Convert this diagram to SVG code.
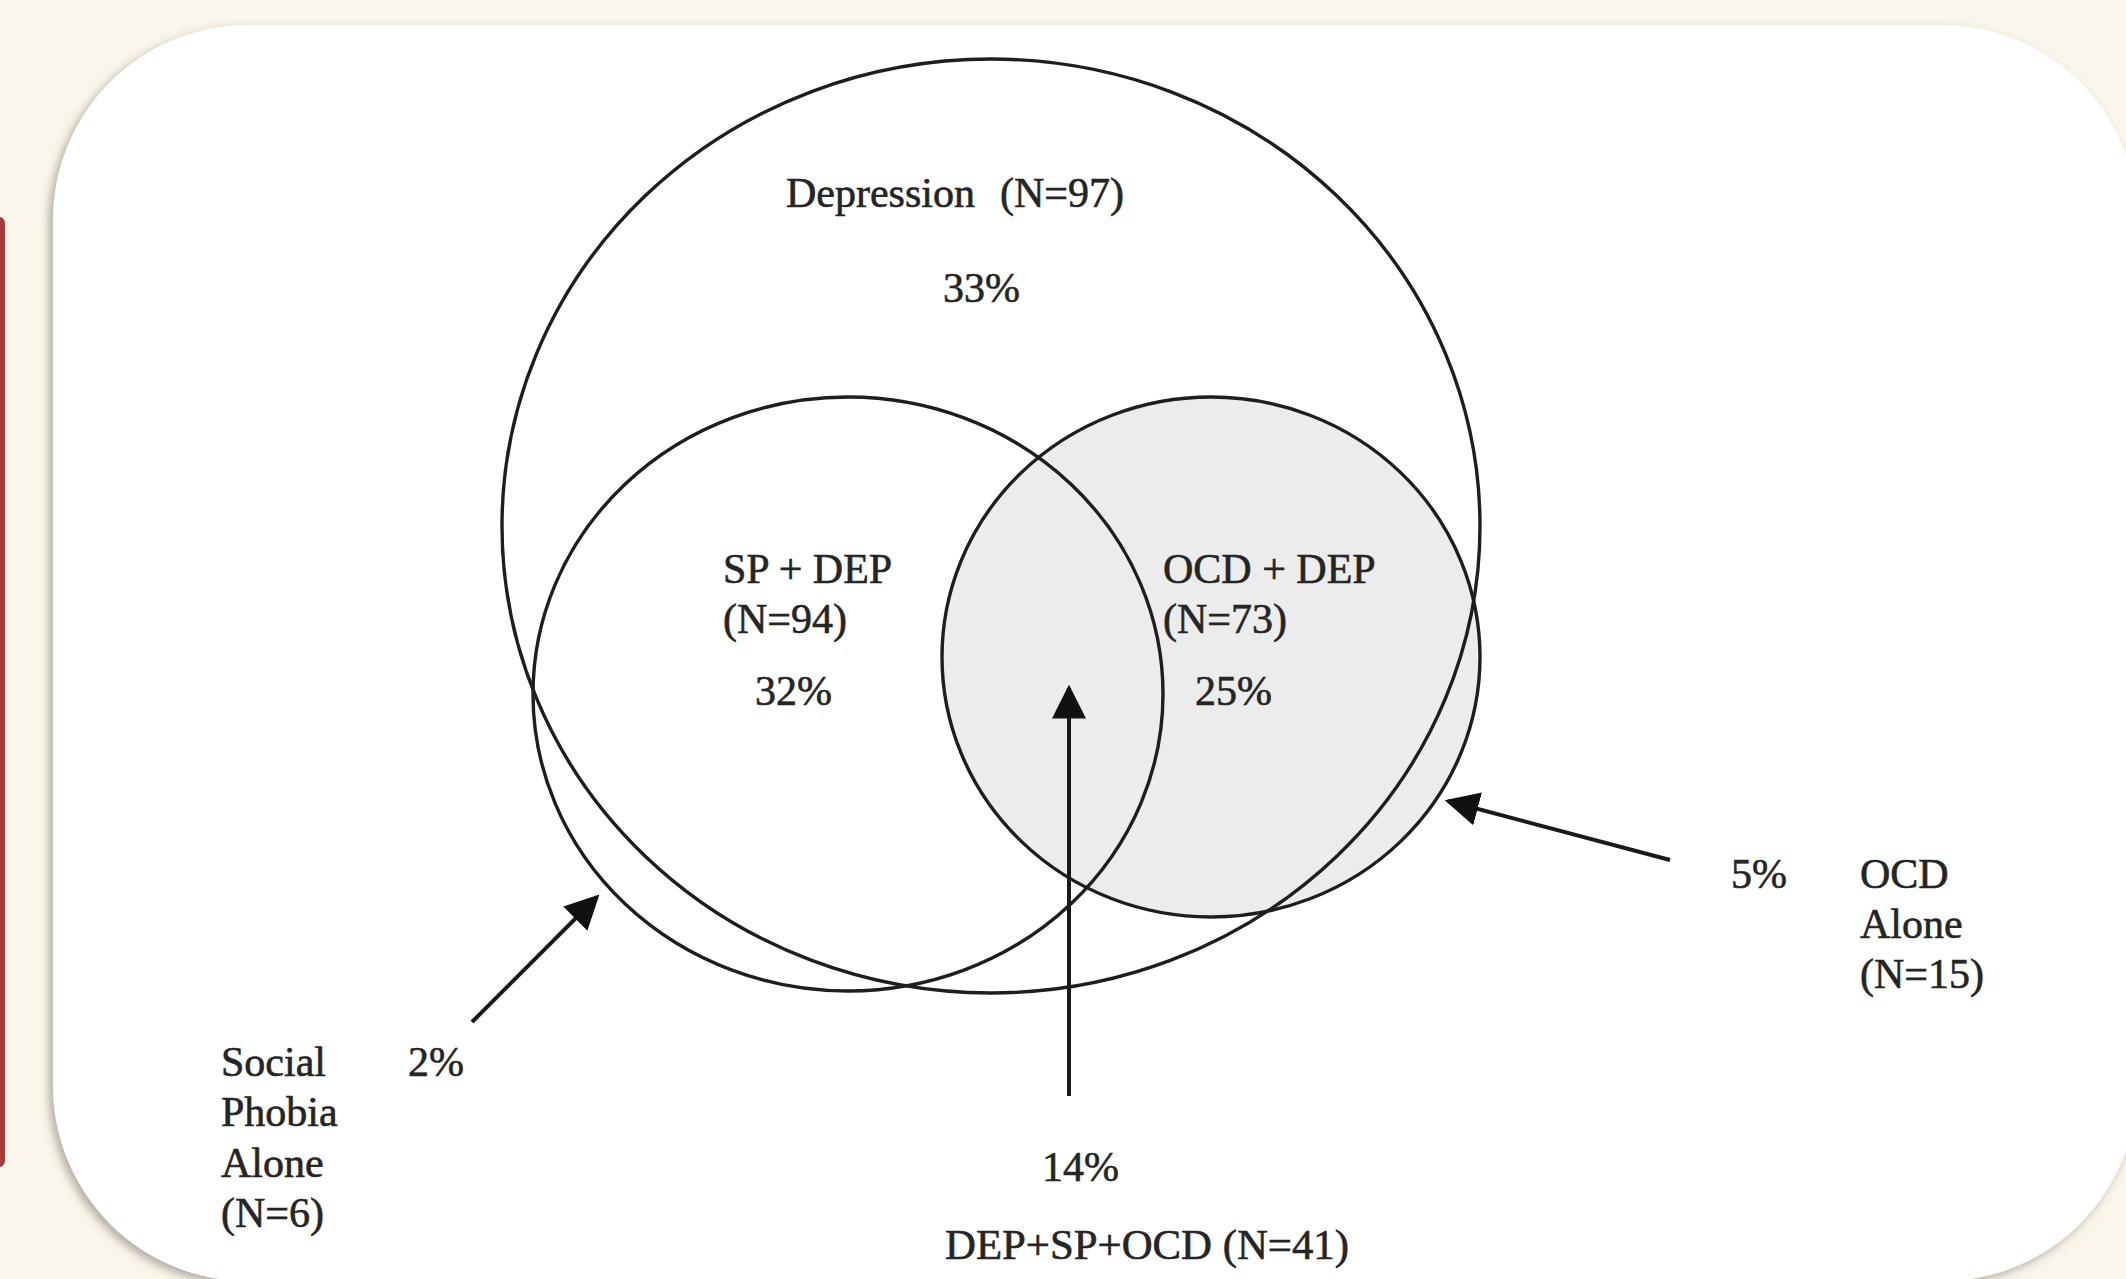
<svg xmlns="http://www.w3.org/2000/svg" width="2126" height="1279" viewBox="0 0 2126 1279">
  <style>
    .t { font-family: "Liberation Serif", "Times New Roman", serif; font-size: 42px; fill: #252525; stroke: #252525; stroke-width: 0.6; }
    .ring { fill: none; stroke: #1e1e1e; stroke-width: 3.4; }
    .arrow { stroke: #1a1a1a; stroke-width: 4; fill: none; }
  </style>
  <defs>
    <filter id="shadow" x="-5%" y="-5%" width="110%" height="110%">
      <feDropShadow dx="-4" dy="4" stdDeviation="5" flood-color="#5a5040" flood-opacity="0.45"/>
    </filter>
    <marker id="head" viewBox="0 0 10 10" refX="9" refY="5" markerWidth="8.5" markerHeight="8.5" markerUnits="strokeWidth" orient="auto">
      <path d="M0,0 L10,5 L0,10 Z" fill="#111"/>
    </marker>
  </defs>

  <rect x="0" y="0" width="2126" height="1279" fill="#FBF6EB"/>
  <rect x="-8" y="217" width="13" height="950" rx="6" fill="#A63B3B"/>
  <rect x="53" y="25" width="2084" height="1256" rx="195" ry="195" fill="#FFFFFF" filter="url(#shadow)"/>

  <g id="ocd-fill">
    <ellipse cx="1211" cy="657" rx="269" ry="260" fill="#ECECEC"/>
  </g>

  <g id="depression">
    <ellipse class="ring" cx="991" cy="526" rx="489" ry="467"/>
    <text class="t" x="786" y="207">Depression</text>
    <text class="t" x="1000" y="207">(N=97)</text>
    <text class="t" x="943" y="302">33%</text>
  </g>

  <g id="social-phobia">
    <ellipse class="ring" cx="848" cy="694" rx="315" ry="297"/>
    <text class="t" x="723" y="583">SP + DEP</text>
    <text class="t" x="723" y="633">(N=94)</text>
    <text class="t" x="755" y="705">32%</text>
  </g>

  <g id="ocd">
    <ellipse class="ring" cx="1211" cy="657" rx="269" ry="260"/>
    <text class="t" x="1163" y="583">OCD + DEP</text>
    <text class="t" x="1163" y="633">(N=73)</text>
    <text class="t" x="1195" y="705">25%</text>
  </g>

  <g id="sp-alone">
    <text class="t" x="221" y="1076">Social</text>
    <text class="t" x="221" y="1126">Phobia</text>
    <text class="t" x="221" y="1177">Alone</text>
    <text class="t" x="221" y="1227">(N=6)</text>
    <text class="t" x="408" y="1076">2%</text>
  </g>

  <g id="ocd-alone">
    <text class="t" x="1731" y="888">5%</text>
    <text class="t" x="1860" y="888">OCD</text>
    <text class="t" x="1860" y="938">Alone</text>
    <text class="t" x="1860" y="988">(N=15)</text>
  </g>

  <g id="triple">
    <text class="t" x="1042" y="1181">14%</text>
    <text class="t" x="945" y="1259" textLength="404" lengthAdjust="spacingAndGlyphs">DEP+SP+OCD (N=41)</text>
  </g>

  <g id="connectors">
    <line class="arrow" x1="472" y1="1022" x2="597" y2="897" marker-end="url(#head)"/>
    <line class="arrow" x1="1670" y1="860" x2="1448" y2="801" marker-end="url(#head)"/>
    <line class="arrow" x1="1069" y1="1096" x2="1069" y2="688" marker-end="url(#head)"/>
  </g>
</svg>
